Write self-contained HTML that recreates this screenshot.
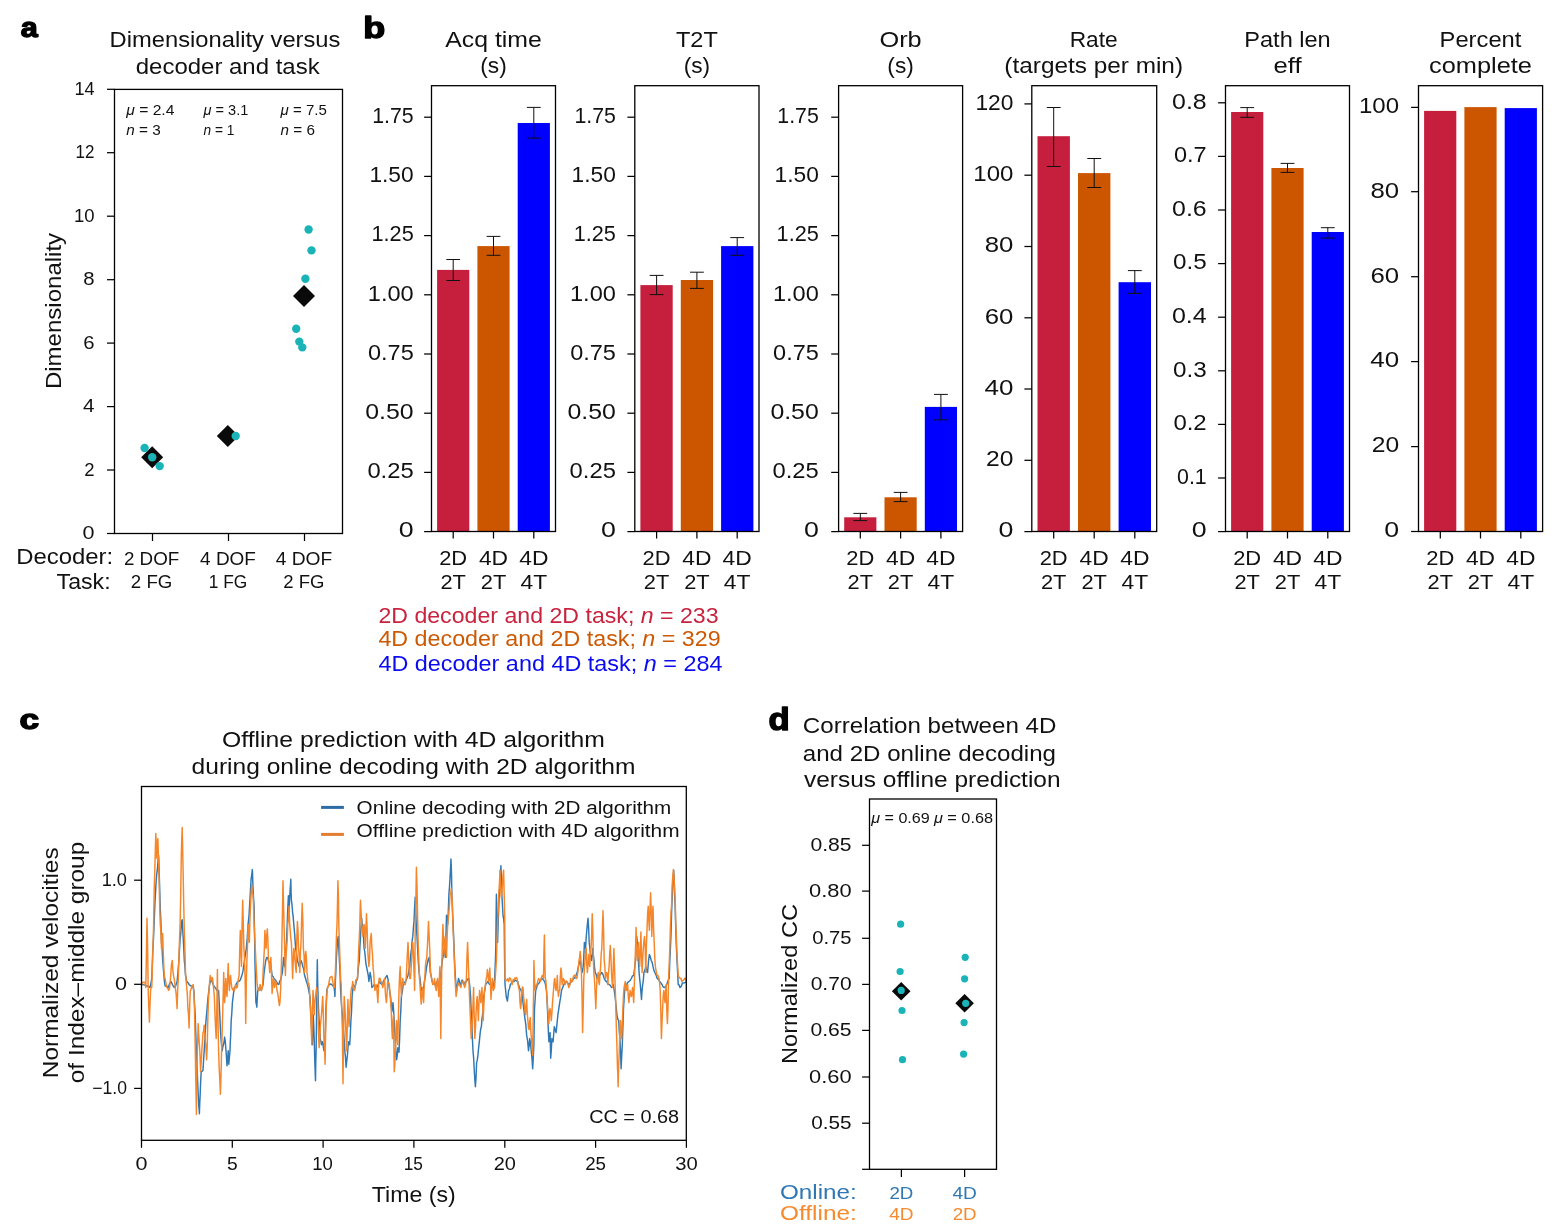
<!DOCTYPE html>
<html lang="en"><head><meta charset="utf-8"><title>Figure</title>
<style>
html,body{margin:0;padding:0;background:#fff;}
body{width:1559px;height:1231px;overflow:hidden;}
svg{display:block;font-family:"Liberation Sans",sans-serif;fill:#111;}
</style></head><body>
<svg width="1559" height="1231" viewBox="0 0 1559 1231" shape-rendering="geometricPrecision">
<text x="20.7" y="36.9" font-size="28" font-weight="bold" fill="#000" stroke="#000" stroke-width="1.4" stroke-linejoin="round" textLength="17.0" lengthAdjust="spacingAndGlyphs">a</text>
<text x="225.0" y="46.8" font-size="22.5" text-anchor="middle" textLength="230.9" lengthAdjust="spacingAndGlyphs">Dimensionality versus</text>
<text x="227.7" y="73.6" font-size="22.5" text-anchor="middle" textLength="183.9" lengthAdjust="spacingAndGlyphs">decoder and task</text>
<rect x="114.5" y="89.4" width="228.0" height="444.1" fill="none" stroke="#000" stroke-width="1.3"/>
<line x1="107.0" y1="533.5" x2="114.5" y2="533.5" stroke="#000" stroke-width="1.25"/>
<text x="94.5" y="539.1" font-size="17.8" text-anchor="end" textLength="12.0" lengthAdjust="spacingAndGlyphs">0</text>
<line x1="107.0" y1="470.0" x2="114.5" y2="470.0" stroke="#000" stroke-width="1.25"/>
<text x="94.5" y="475.6" font-size="17.8" text-anchor="end" textLength="10.3" lengthAdjust="spacingAndGlyphs">2</text>
<line x1="107.0" y1="406.6" x2="114.5" y2="406.6" stroke="#000" stroke-width="1.25"/>
<text x="94.5" y="412.2" font-size="17.8" text-anchor="end" textLength="11.5" lengthAdjust="spacingAndGlyphs">4</text>
<line x1="107.0" y1="343.1" x2="114.5" y2="343.1" stroke="#000" stroke-width="1.25"/>
<text x="94.5" y="348.7" font-size="17.8" text-anchor="end" textLength="11.3" lengthAdjust="spacingAndGlyphs">6</text>
<line x1="107.0" y1="279.7" x2="114.5" y2="279.7" stroke="#000" stroke-width="1.25"/>
<text x="94.5" y="285.3" font-size="17.8" text-anchor="end" textLength="11.3" lengthAdjust="spacingAndGlyphs">8</text>
<line x1="107.0" y1="216.2" x2="114.5" y2="216.2" stroke="#000" stroke-width="1.25"/>
<text x="94.5" y="221.8" font-size="17.8" text-anchor="end" textLength="20.6" lengthAdjust="spacingAndGlyphs">10</text>
<line x1="107.0" y1="152.7" x2="114.5" y2="152.7" stroke="#000" stroke-width="1.25"/>
<text x="94.5" y="158.3" font-size="17.8" text-anchor="end" textLength="18.9" lengthAdjust="spacingAndGlyphs">12</text>
<line x1="107.0" y1="89.3" x2="114.5" y2="89.3" stroke="#000" stroke-width="1.25"/>
<text x="94.5" y="94.9" font-size="17.8" text-anchor="end" textLength="20.1" lengthAdjust="spacingAndGlyphs">14</text>
<line x1="152.5" y1="533.5" x2="152.5" y2="541.0" stroke="#000" stroke-width="1.25"/>
<line x1="228.5" y1="533.5" x2="228.5" y2="541.0" stroke="#000" stroke-width="1.25"/>
<line x1="304.5" y1="533.5" x2="304.5" y2="541.0" stroke="#000" stroke-width="1.25"/>
<text transform="translate(60.8 311.0) rotate(-90)" font-size="22.5" text-anchor="middle" textLength="156.2" lengthAdjust="spacingAndGlyphs">Dimensionality</text>
<text x="126.2" y="114.6" font-size="13.8" textLength="48.2" lengthAdjust="spacingAndGlyphs"><tspan font-style="italic">μ</tspan> = 2.4</text>
<text x="126.2" y="134.6" font-size="13.8" textLength="34.5" lengthAdjust="spacingAndGlyphs"><tspan font-style="italic">n</tspan> = 3</text>
<text x="203.5" y="114.6" font-size="13.8" textLength="44.8" lengthAdjust="spacingAndGlyphs"><tspan font-style="italic">μ</tspan> = 3.1</text>
<text x="203.5" y="134.6" font-size="13.8" textLength="30.9" lengthAdjust="spacingAndGlyphs"><tspan font-style="italic">n</tspan> = 1</text>
<text x="280.5" y="114.6" font-size="13.8" textLength="46.3" lengthAdjust="spacingAndGlyphs"><tspan font-style="italic">μ</tspan> = 7.5</text>
<text x="280.5" y="134.6" font-size="13.8" textLength="34.4" lengthAdjust="spacingAndGlyphs"><tspan font-style="italic">n</tspan> = 6</text>
<path d="M152.2 446.3 L163.2 457.3 L152.2 468.3 L141.2 457.3Z" fill="#0a0a0a"/>
<circle cx="144.6" cy="448.0" r="4.2" fill="#1ab4b8"/>
<circle cx="152.2" cy="457.3" r="4.2" fill="#1ab4b8"/>
<circle cx="159.7" cy="466.1" r="4.2" fill="#1ab4b8"/>
<path d="M227.8 425.0 L238.8 436.0 L227.8 447.0 L216.8 436.0Z" fill="#0a0a0a"/>
<circle cx="235.7" cy="436.0" r="4.2" fill="#1ab4b8"/>
<path d="M304.0 285.0 L315.0 296.0 L304.0 307.0 L293.0 296.0Z" fill="#0a0a0a"/>
<circle cx="308.6" cy="229.5" r="4.2" fill="#1ab4b8"/>
<circle cx="311.5" cy="250.4" r="4.2" fill="#1ab4b8"/>
<circle cx="305.4" cy="278.7" r="4.2" fill="#1ab4b8"/>
<circle cx="296.2" cy="328.7" r="4.2" fill="#1ab4b8"/>
<circle cx="299.3" cy="341.6" r="4.2" fill="#1ab4b8"/>
<circle cx="302.3" cy="347.4" r="4.2" fill="#1ab4b8"/>
<text x="16.2" y="563.9" font-size="21.6" textLength="97.0" lengthAdjust="spacingAndGlyphs">Decoder:</text>
<text x="56.6" y="588.6" font-size="21.6" textLength="54.0" lengthAdjust="spacingAndGlyphs">Task:</text>
<text x="151.6" y="564.6" font-size="18.0" text-anchor="middle" textLength="55.3" lengthAdjust="spacingAndGlyphs">2 DOF</text>
<text x="151.6" y="587.8" font-size="18.0" text-anchor="middle" textLength="41.5" lengthAdjust="spacingAndGlyphs">2 FG</text>
<text x="228.0" y="564.6" font-size="18.0" text-anchor="middle" textLength="55.8" lengthAdjust="spacingAndGlyphs">4 DOF</text>
<text x="228.0" y="587.8" font-size="18.0" text-anchor="middle" textLength="38.5" lengthAdjust="spacingAndGlyphs">1 FG</text>
<text x="303.9" y="564.6" font-size="18.0" text-anchor="middle" textLength="56.5" lengthAdjust="spacingAndGlyphs">4 DOF</text>
<text x="303.9" y="587.8" font-size="18.0" text-anchor="middle" textLength="41.2" lengthAdjust="spacingAndGlyphs">2 FG</text>
<text x="363.2" y="38.0" font-size="30" font-weight="bold" fill="#000" stroke="#000" stroke-width="1.4" stroke-linejoin="round" textLength="22.0" lengthAdjust="spacingAndGlyphs">b</text>
<rect x="437.1" y="269.9" width="32.2" height="261.7" fill="#c61f3d"/>
<rect x="477.4" y="246.1" width="32.2" height="285.5" fill="#cc5500"/>
<rect x="517.7" y="123.0" width="32.2" height="408.6" fill="#0000ff"/>
<line x1="453.2" y1="259.5" x2="453.2" y2="280.5" stroke="#111" stroke-width="1"/>
<line x1="446.3" y1="259.5" x2="460.1" y2="259.5" stroke="#111" stroke-width="1"/>
<line x1="446.3" y1="280.5" x2="460.1" y2="280.5" stroke="#111" stroke-width="1"/>
<line x1="493.5" y1="236.4" x2="493.5" y2="255.3" stroke="#111" stroke-width="1"/>
<line x1="486.6" y1="236.4" x2="500.4" y2="236.4" stroke="#111" stroke-width="1"/>
<line x1="486.6" y1="255.3" x2="500.4" y2="255.3" stroke="#111" stroke-width="1"/>
<line x1="533.8" y1="107.4" x2="533.8" y2="138.1" stroke="#111" stroke-width="1"/>
<line x1="526.9" y1="107.4" x2="540.7" y2="107.4" stroke="#111" stroke-width="1"/>
<line x1="526.9" y1="138.1" x2="540.7" y2="138.1" stroke="#111" stroke-width="1"/>
<rect x="431.5" y="85.7" width="124.0" height="445.8" fill="none" stroke="#000" stroke-width="1.3"/>
<line x1="424.1" y1="531.6" x2="431.5" y2="531.6" stroke="#000" stroke-width="1.25"/>
<text x="413.7" y="537.4" font-size="22.0" text-anchor="end" textLength="14.9" lengthAdjust="spacingAndGlyphs">0</text>
<line x1="424.1" y1="472.4" x2="431.5" y2="472.4" stroke="#000" stroke-width="1.25"/>
<text x="413.7" y="478.2" font-size="22.0" text-anchor="end" textLength="46.3" lengthAdjust="spacingAndGlyphs">0.25</text>
<line x1="424.1" y1="413.2" x2="431.5" y2="413.2" stroke="#000" stroke-width="1.25"/>
<text x="413.7" y="419.0" font-size="22.0" text-anchor="end" textLength="48.4" lengthAdjust="spacingAndGlyphs">0.50</text>
<line x1="424.1" y1="354.0" x2="431.5" y2="354.0" stroke="#000" stroke-width="1.25"/>
<text x="413.7" y="359.8" font-size="22.0" text-anchor="end" textLength="45.7" lengthAdjust="spacingAndGlyphs">0.75</text>
<line x1="424.1" y1="294.8" x2="431.5" y2="294.8" stroke="#000" stroke-width="1.25"/>
<text x="413.7" y="300.6" font-size="22.0" text-anchor="end" textLength="45.9" lengthAdjust="spacingAndGlyphs">1.00</text>
<line x1="424.1" y1="235.6" x2="431.5" y2="235.6" stroke="#000" stroke-width="1.25"/>
<text x="413.7" y="241.4" font-size="22.0" text-anchor="end" textLength="42.2" lengthAdjust="spacingAndGlyphs">1.25</text>
<line x1="424.1" y1="176.4" x2="431.5" y2="176.4" stroke="#000" stroke-width="1.25"/>
<text x="413.7" y="182.2" font-size="22.0" text-anchor="end" textLength="44.3" lengthAdjust="spacingAndGlyphs">1.50</text>
<line x1="424.1" y1="117.2" x2="431.5" y2="117.2" stroke="#000" stroke-width="1.25"/>
<text x="413.7" y="123.0" font-size="22.0" text-anchor="end" textLength="41.5" lengthAdjust="spacingAndGlyphs">1.75</text>
<line x1="453.2" y1="531.5" x2="453.2" y2="538.5" stroke="#000" stroke-width="1.25"/>
<text x="453.2" y="564.6" font-size="20.5" text-anchor="middle" textLength="28.0" lengthAdjust="spacingAndGlyphs">2D</text>
<text x="453.2" y="589.2" font-size="20.5" text-anchor="middle" textLength="25.5" lengthAdjust="spacingAndGlyphs">2T</text>
<line x1="493.5" y1="531.5" x2="493.5" y2="538.5" stroke="#000" stroke-width="1.25"/>
<text x="493.5" y="564.6" font-size="20.5" text-anchor="middle" textLength="29.2" lengthAdjust="spacingAndGlyphs">4D</text>
<text x="493.5" y="589.2" font-size="20.5" text-anchor="middle" textLength="25.5" lengthAdjust="spacingAndGlyphs">2T</text>
<line x1="533.8" y1="531.5" x2="533.8" y2="538.5" stroke="#000" stroke-width="1.25"/>
<text x="533.8" y="564.6" font-size="20.5" text-anchor="middle" textLength="29.2" lengthAdjust="spacingAndGlyphs">4D</text>
<text x="533.8" y="589.2" font-size="20.5" text-anchor="middle" textLength="26.7" lengthAdjust="spacingAndGlyphs">4T</text>
<text x="493.5" y="47.0" font-size="22.5" text-anchor="middle" textLength="96.5" lengthAdjust="spacingAndGlyphs">Acq time</text>
<text x="493.5" y="73.4" font-size="22.5" text-anchor="middle" textLength="26.5" lengthAdjust="spacingAndGlyphs">(s)</text>
<rect x="640.4" y="285.1" width="32.3" height="246.5" fill="#c61f3d"/>
<rect x="680.8" y="280.0" width="32.3" height="251.6" fill="#cc5500"/>
<rect x="721.1" y="246.1" width="32.3" height="285.5" fill="#0000ff"/>
<line x1="656.6" y1="275.4" x2="656.6" y2="294.6" stroke="#111" stroke-width="1"/>
<line x1="649.7" y1="275.4" x2="663.5" y2="275.4" stroke="#111" stroke-width="1"/>
<line x1="649.7" y1="294.6" x2="663.5" y2="294.6" stroke="#111" stroke-width="1"/>
<line x1="696.9" y1="272.2" x2="696.9" y2="288.4" stroke="#111" stroke-width="1"/>
<line x1="690.0" y1="272.2" x2="703.8" y2="272.2" stroke="#111" stroke-width="1"/>
<line x1="690.0" y1="288.4" x2="703.8" y2="288.4" stroke="#111" stroke-width="1"/>
<line x1="737.2" y1="237.6" x2="737.2" y2="255.3" stroke="#111" stroke-width="1"/>
<line x1="730.3" y1="237.6" x2="744.1" y2="237.6" stroke="#111" stroke-width="1"/>
<line x1="730.3" y1="255.3" x2="744.1" y2="255.3" stroke="#111" stroke-width="1"/>
<rect x="634.8" y="85.7" width="124.2" height="445.8" fill="none" stroke="#000" stroke-width="1.3"/>
<line x1="627.4" y1="531.6" x2="634.8" y2="531.6" stroke="#000" stroke-width="1.25"/>
<text x="615.9" y="537.4" font-size="22.0" text-anchor="end" textLength="14.9" lengthAdjust="spacingAndGlyphs">0</text>
<line x1="627.4" y1="472.4" x2="634.8" y2="472.4" stroke="#000" stroke-width="1.25"/>
<text x="615.9" y="478.2" font-size="22.0" text-anchor="end" textLength="46.3" lengthAdjust="spacingAndGlyphs">0.25</text>
<line x1="627.4" y1="413.2" x2="634.8" y2="413.2" stroke="#000" stroke-width="1.25"/>
<text x="615.9" y="419.0" font-size="22.0" text-anchor="end" textLength="48.4" lengthAdjust="spacingAndGlyphs">0.50</text>
<line x1="627.4" y1="354.0" x2="634.8" y2="354.0" stroke="#000" stroke-width="1.25"/>
<text x="615.9" y="359.8" font-size="22.0" text-anchor="end" textLength="45.7" lengthAdjust="spacingAndGlyphs">0.75</text>
<line x1="627.4" y1="294.8" x2="634.8" y2="294.8" stroke="#000" stroke-width="1.25"/>
<text x="615.9" y="300.6" font-size="22.0" text-anchor="end" textLength="45.9" lengthAdjust="spacingAndGlyphs">1.00</text>
<line x1="627.4" y1="235.6" x2="634.8" y2="235.6" stroke="#000" stroke-width="1.25"/>
<text x="615.9" y="241.4" font-size="22.0" text-anchor="end" textLength="42.2" lengthAdjust="spacingAndGlyphs">1.25</text>
<line x1="627.4" y1="176.4" x2="634.8" y2="176.4" stroke="#000" stroke-width="1.25"/>
<text x="615.9" y="182.2" font-size="22.0" text-anchor="end" textLength="44.3" lengthAdjust="spacingAndGlyphs">1.50</text>
<line x1="627.4" y1="117.2" x2="634.8" y2="117.2" stroke="#000" stroke-width="1.25"/>
<text x="615.9" y="123.0" font-size="22.0" text-anchor="end" textLength="41.5" lengthAdjust="spacingAndGlyphs">1.75</text>
<line x1="656.6" y1="531.5" x2="656.6" y2="538.5" stroke="#000" stroke-width="1.25"/>
<text x="656.6" y="564.6" font-size="20.5" text-anchor="middle" textLength="28.0" lengthAdjust="spacingAndGlyphs">2D</text>
<text x="656.6" y="589.2" font-size="20.5" text-anchor="middle" textLength="25.5" lengthAdjust="spacingAndGlyphs">2T</text>
<line x1="696.9" y1="531.5" x2="696.9" y2="538.5" stroke="#000" stroke-width="1.25"/>
<text x="696.9" y="564.6" font-size="20.5" text-anchor="middle" textLength="29.2" lengthAdjust="spacingAndGlyphs">4D</text>
<text x="696.9" y="589.2" font-size="20.5" text-anchor="middle" textLength="25.5" lengthAdjust="spacingAndGlyphs">2T</text>
<line x1="737.2" y1="531.5" x2="737.2" y2="538.5" stroke="#000" stroke-width="1.25"/>
<text x="737.2" y="564.6" font-size="20.5" text-anchor="middle" textLength="29.2" lengthAdjust="spacingAndGlyphs">4D</text>
<text x="737.2" y="589.2" font-size="20.5" text-anchor="middle" textLength="26.7" lengthAdjust="spacingAndGlyphs">4T</text>
<text x="696.9" y="47.0" font-size="22.5" text-anchor="middle" textLength="41.8" lengthAdjust="spacingAndGlyphs">T2T</text>
<text x="696.9" y="73.4" font-size="22.5" text-anchor="middle" textLength="26.5" lengthAdjust="spacingAndGlyphs">(s)</text>
<rect x="844.2" y="517.3" width="32.2" height="14.3" fill="#c61f3d"/>
<rect x="884.5" y="497.3" width="32.2" height="34.3" fill="#cc5500"/>
<rect x="924.8" y="406.9" width="32.2" height="124.7" fill="#0000ff"/>
<line x1="860.3" y1="513.4" x2="860.3" y2="520.6" stroke="#111" stroke-width="1"/>
<line x1="853.4" y1="513.4" x2="867.2" y2="513.4" stroke="#111" stroke-width="1"/>
<line x1="853.4" y1="520.6" x2="867.2" y2="520.6" stroke="#111" stroke-width="1"/>
<line x1="900.6" y1="492.4" x2="900.6" y2="501.6" stroke="#111" stroke-width="1"/>
<line x1="893.7" y1="492.4" x2="907.5" y2="492.4" stroke="#111" stroke-width="1"/>
<line x1="893.7" y1="501.6" x2="907.5" y2="501.6" stroke="#111" stroke-width="1"/>
<line x1="940.9" y1="394.4" x2="940.9" y2="419.8" stroke="#111" stroke-width="1"/>
<line x1="934.0" y1="394.4" x2="947.8" y2="394.4" stroke="#111" stroke-width="1"/>
<line x1="934.0" y1="419.8" x2="947.8" y2="419.8" stroke="#111" stroke-width="1"/>
<rect x="838.6" y="85.7" width="124.0" height="445.8" fill="none" stroke="#000" stroke-width="1.3"/>
<line x1="831.2" y1="531.6" x2="838.6" y2="531.6" stroke="#000" stroke-width="1.25"/>
<text x="818.8" y="537.4" font-size="22.0" text-anchor="end" textLength="14.9" lengthAdjust="spacingAndGlyphs">0</text>
<line x1="831.2" y1="472.4" x2="838.6" y2="472.4" stroke="#000" stroke-width="1.25"/>
<text x="818.8" y="478.2" font-size="22.0" text-anchor="end" textLength="46.3" lengthAdjust="spacingAndGlyphs">0.25</text>
<line x1="831.2" y1="413.2" x2="838.6" y2="413.2" stroke="#000" stroke-width="1.25"/>
<text x="818.8" y="419.0" font-size="22.0" text-anchor="end" textLength="48.4" lengthAdjust="spacingAndGlyphs">0.50</text>
<line x1="831.2" y1="354.0" x2="838.6" y2="354.0" stroke="#000" stroke-width="1.25"/>
<text x="818.8" y="359.8" font-size="22.0" text-anchor="end" textLength="45.7" lengthAdjust="spacingAndGlyphs">0.75</text>
<line x1="831.2" y1="294.8" x2="838.6" y2="294.8" stroke="#000" stroke-width="1.25"/>
<text x="818.8" y="300.6" font-size="22.0" text-anchor="end" textLength="45.9" lengthAdjust="spacingAndGlyphs">1.00</text>
<line x1="831.2" y1="235.6" x2="838.6" y2="235.6" stroke="#000" stroke-width="1.25"/>
<text x="818.8" y="241.4" font-size="22.0" text-anchor="end" textLength="42.2" lengthAdjust="spacingAndGlyphs">1.25</text>
<line x1="831.2" y1="176.4" x2="838.6" y2="176.4" stroke="#000" stroke-width="1.25"/>
<text x="818.8" y="182.2" font-size="22.0" text-anchor="end" textLength="44.3" lengthAdjust="spacingAndGlyphs">1.50</text>
<line x1="831.2" y1="117.2" x2="838.6" y2="117.2" stroke="#000" stroke-width="1.25"/>
<text x="818.8" y="123.0" font-size="22.0" text-anchor="end" textLength="41.5" lengthAdjust="spacingAndGlyphs">1.75</text>
<line x1="860.3" y1="531.5" x2="860.3" y2="538.5" stroke="#000" stroke-width="1.25"/>
<text x="860.3" y="564.6" font-size="20.5" text-anchor="middle" textLength="28.0" lengthAdjust="spacingAndGlyphs">2D</text>
<text x="860.3" y="589.2" font-size="20.5" text-anchor="middle" textLength="25.5" lengthAdjust="spacingAndGlyphs">2T</text>
<line x1="900.6" y1="531.5" x2="900.6" y2="538.5" stroke="#000" stroke-width="1.25"/>
<text x="900.6" y="564.6" font-size="20.5" text-anchor="middle" textLength="29.2" lengthAdjust="spacingAndGlyphs">4D</text>
<text x="900.6" y="589.2" font-size="20.5" text-anchor="middle" textLength="25.5" lengthAdjust="spacingAndGlyphs">2T</text>
<line x1="940.9" y1="531.5" x2="940.9" y2="538.5" stroke="#000" stroke-width="1.25"/>
<text x="940.9" y="564.6" font-size="20.5" text-anchor="middle" textLength="29.2" lengthAdjust="spacingAndGlyphs">4D</text>
<text x="940.9" y="589.2" font-size="20.5" text-anchor="middle" textLength="26.7" lengthAdjust="spacingAndGlyphs">4T</text>
<text x="900.6" y="47.0" font-size="22.5" text-anchor="middle" textLength="42.2" lengthAdjust="spacingAndGlyphs">Orb</text>
<text x="900.6" y="73.4" font-size="22.5" text-anchor="middle" textLength="26.5" lengthAdjust="spacingAndGlyphs">(s)</text>
<rect x="1037.5" y="136.2" width="32.4" height="395.4" fill="#c61f3d"/>
<rect x="1078.0" y="173.1" width="32.4" height="358.5" fill="#cc5500"/>
<rect x="1118.6" y="282.2" width="32.4" height="249.4" fill="#0000ff"/>
<line x1="1053.7" y1="107.5" x2="1053.7" y2="166.5" stroke="#111" stroke-width="1"/>
<line x1="1046.8" y1="107.5" x2="1060.6" y2="107.5" stroke="#111" stroke-width="1"/>
<line x1="1046.8" y1="166.5" x2="1060.6" y2="166.5" stroke="#111" stroke-width="1"/>
<line x1="1094.2" y1="158.5" x2="1094.2" y2="187.5" stroke="#111" stroke-width="1"/>
<line x1="1087.3" y1="158.5" x2="1101.2" y2="158.5" stroke="#111" stroke-width="1"/>
<line x1="1087.3" y1="187.5" x2="1101.2" y2="187.5" stroke="#111" stroke-width="1"/>
<line x1="1134.8" y1="270.6" x2="1134.8" y2="293.4" stroke="#111" stroke-width="1"/>
<line x1="1127.9" y1="270.6" x2="1141.7" y2="270.6" stroke="#111" stroke-width="1"/>
<line x1="1127.9" y1="293.4" x2="1141.7" y2="293.4" stroke="#111" stroke-width="1"/>
<rect x="1031.8" y="85.7" width="124.9" height="445.8" fill="none" stroke="#000" stroke-width="1.3"/>
<line x1="1024.4" y1="531.6" x2="1031.8" y2="531.6" stroke="#000" stroke-width="1.25"/>
<text x="1013.4" y="537.4" font-size="22.0" text-anchor="end" textLength="14.9" lengthAdjust="spacingAndGlyphs">0</text>
<line x1="1024.4" y1="460.3" x2="1031.8" y2="460.3" stroke="#000" stroke-width="1.25"/>
<text x="1013.4" y="466.1" font-size="22.0" text-anchor="end" textLength="27.4" lengthAdjust="spacingAndGlyphs">20</text>
<line x1="1024.4" y1="389.0" x2="1031.8" y2="389.0" stroke="#000" stroke-width="1.25"/>
<text x="1013.4" y="394.8" font-size="22.0" text-anchor="end" textLength="28.9" lengthAdjust="spacingAndGlyphs">40</text>
<line x1="1024.4" y1="317.8" x2="1031.8" y2="317.8" stroke="#000" stroke-width="1.25"/>
<text x="1013.4" y="323.6" font-size="22.0" text-anchor="end" textLength="28.7" lengthAdjust="spacingAndGlyphs">60</text>
<line x1="1024.4" y1="246.5" x2="1031.8" y2="246.5" stroke="#000" stroke-width="1.25"/>
<text x="1013.4" y="252.3" font-size="22.0" text-anchor="end" textLength="28.7" lengthAdjust="spacingAndGlyphs">80</text>
<line x1="1024.4" y1="175.2" x2="1031.8" y2="175.2" stroke="#000" stroke-width="1.25"/>
<text x="1013.4" y="181.0" font-size="22.0" text-anchor="end" textLength="40.1" lengthAdjust="spacingAndGlyphs">100</text>
<line x1="1024.4" y1="103.9" x2="1031.8" y2="103.9" stroke="#000" stroke-width="1.25"/>
<text x="1013.4" y="109.7" font-size="22.0" text-anchor="end" textLength="38.0" lengthAdjust="spacingAndGlyphs">120</text>
<line x1="1053.7" y1="531.5" x2="1053.7" y2="538.5" stroke="#000" stroke-width="1.25"/>
<text x="1053.7" y="564.6" font-size="20.5" text-anchor="middle" textLength="28.0" lengthAdjust="spacingAndGlyphs">2D</text>
<text x="1053.7" y="589.2" font-size="20.5" text-anchor="middle" textLength="25.5" lengthAdjust="spacingAndGlyphs">2T</text>
<line x1="1094.2" y1="531.5" x2="1094.2" y2="538.5" stroke="#000" stroke-width="1.25"/>
<text x="1094.2" y="564.6" font-size="20.5" text-anchor="middle" textLength="29.2" lengthAdjust="spacingAndGlyphs">4D</text>
<text x="1094.2" y="589.2" font-size="20.5" text-anchor="middle" textLength="25.5" lengthAdjust="spacingAndGlyphs">2T</text>
<line x1="1134.8" y1="531.5" x2="1134.8" y2="538.5" stroke="#000" stroke-width="1.25"/>
<text x="1134.8" y="564.6" font-size="20.5" text-anchor="middle" textLength="29.2" lengthAdjust="spacingAndGlyphs">4D</text>
<text x="1134.8" y="589.2" font-size="20.5" text-anchor="middle" textLength="26.7" lengthAdjust="spacingAndGlyphs">4T</text>
<text x="1093.7" y="47.0" font-size="22.5" text-anchor="middle" textLength="48.0" lengthAdjust="spacingAndGlyphs">Rate</text>
<text x="1093.7" y="73.4" font-size="22.5" text-anchor="middle" textLength="178.7" lengthAdjust="spacingAndGlyphs">(targets per min)</text>
<rect x="1231.1" y="112.0" width="32.2" height="419.6" fill="#c61f3d"/>
<rect x="1271.4" y="168.0" width="32.2" height="363.6" fill="#cc5500"/>
<rect x="1311.7" y="232.0" width="32.2" height="299.6" fill="#0000ff"/>
<line x1="1247.2" y1="107.6" x2="1247.2" y2="117.3" stroke="#111" stroke-width="1"/>
<line x1="1240.3" y1="107.6" x2="1254.1" y2="107.6" stroke="#111" stroke-width="1"/>
<line x1="1240.3" y1="117.3" x2="1254.1" y2="117.3" stroke="#111" stroke-width="1"/>
<line x1="1287.5" y1="163.4" x2="1287.5" y2="172.4" stroke="#111" stroke-width="1"/>
<line x1="1280.6" y1="163.4" x2="1294.4" y2="163.4" stroke="#111" stroke-width="1"/>
<line x1="1280.6" y1="172.4" x2="1294.4" y2="172.4" stroke="#111" stroke-width="1"/>
<line x1="1327.8" y1="227.7" x2="1327.8" y2="238.1" stroke="#111" stroke-width="1"/>
<line x1="1320.9" y1="227.7" x2="1334.7" y2="227.7" stroke="#111" stroke-width="1"/>
<line x1="1320.9" y1="238.1" x2="1334.7" y2="238.1" stroke="#111" stroke-width="1"/>
<rect x="1225.5" y="85.7" width="124.0" height="445.8" fill="none" stroke="#000" stroke-width="1.3"/>
<line x1="1218.1" y1="531.6" x2="1225.5" y2="531.6" stroke="#000" stroke-width="1.25"/>
<text x="1206.7" y="537.4" font-size="22.0" text-anchor="end" textLength="14.9" lengthAdjust="spacingAndGlyphs">0</text>
<line x1="1218.1" y1="478.0" x2="1225.5" y2="478.0" stroke="#000" stroke-width="1.25"/>
<text x="1206.7" y="483.8" font-size="22.0" text-anchor="end" textLength="29.7" lengthAdjust="spacingAndGlyphs">0.1</text>
<line x1="1218.1" y1="424.4" x2="1225.5" y2="424.4" stroke="#000" stroke-width="1.25"/>
<text x="1206.7" y="430.2" font-size="22.0" text-anchor="end" textLength="33.3" lengthAdjust="spacingAndGlyphs">0.2</text>
<line x1="1218.1" y1="370.8" x2="1225.5" y2="370.8" stroke="#000" stroke-width="1.25"/>
<text x="1206.7" y="376.6" font-size="22.0" text-anchor="end" textLength="33.7" lengthAdjust="spacingAndGlyphs">0.3</text>
<line x1="1218.1" y1="317.2" x2="1225.5" y2="317.2" stroke="#000" stroke-width="1.25"/>
<text x="1206.7" y="323.0" font-size="22.0" text-anchor="end" textLength="34.8" lengthAdjust="spacingAndGlyphs">0.4</text>
<line x1="1218.1" y1="263.6" x2="1225.5" y2="263.6" stroke="#000" stroke-width="1.25"/>
<text x="1206.7" y="269.4" font-size="22.0" text-anchor="end" textLength="33.7" lengthAdjust="spacingAndGlyphs">0.5</text>
<line x1="1218.1" y1="210.0" x2="1225.5" y2="210.0" stroke="#000" stroke-width="1.25"/>
<text x="1206.7" y="215.8" font-size="22.0" text-anchor="end" textLength="34.6" lengthAdjust="spacingAndGlyphs">0.6</text>
<line x1="1218.1" y1="156.4" x2="1225.5" y2="156.4" stroke="#000" stroke-width="1.25"/>
<text x="1206.7" y="162.2" font-size="22.0" text-anchor="end" textLength="32.7" lengthAdjust="spacingAndGlyphs">0.7</text>
<line x1="1218.1" y1="102.8" x2="1225.5" y2="102.8" stroke="#000" stroke-width="1.25"/>
<text x="1206.7" y="108.6" font-size="22.0" text-anchor="end" textLength="34.6" lengthAdjust="spacingAndGlyphs">0.8</text>
<line x1="1247.2" y1="531.5" x2="1247.2" y2="538.5" stroke="#000" stroke-width="1.25"/>
<text x="1247.2" y="564.6" font-size="20.5" text-anchor="middle" textLength="28.0" lengthAdjust="spacingAndGlyphs">2D</text>
<text x="1247.2" y="589.2" font-size="20.5" text-anchor="middle" textLength="25.5" lengthAdjust="spacingAndGlyphs">2T</text>
<line x1="1287.5" y1="531.5" x2="1287.5" y2="538.5" stroke="#000" stroke-width="1.25"/>
<text x="1287.5" y="564.6" font-size="20.5" text-anchor="middle" textLength="29.2" lengthAdjust="spacingAndGlyphs">4D</text>
<text x="1287.5" y="589.2" font-size="20.5" text-anchor="middle" textLength="25.5" lengthAdjust="spacingAndGlyphs">2T</text>
<line x1="1327.8" y1="531.5" x2="1327.8" y2="538.5" stroke="#000" stroke-width="1.25"/>
<text x="1327.8" y="564.6" font-size="20.5" text-anchor="middle" textLength="29.2" lengthAdjust="spacingAndGlyphs">4D</text>
<text x="1327.8" y="589.2" font-size="20.5" text-anchor="middle" textLength="26.7" lengthAdjust="spacingAndGlyphs">4T</text>
<text x="1287.5" y="47.0" font-size="22.5" text-anchor="middle" textLength="86.4" lengthAdjust="spacingAndGlyphs">Path len</text>
<text x="1287.5" y="73.4" font-size="22.5" text-anchor="middle" textLength="28.0" lengthAdjust="spacingAndGlyphs">eff</text>
<rect x="1424.1" y="110.9" width="32.2" height="420.6" fill="#c61f3d"/>
<rect x="1464.4" y="107.1" width="32.2" height="424.4" fill="#cc5500"/>
<rect x="1504.7" y="108.1" width="32.2" height="423.4" fill="#0000ff"/>
<rect x="1418.5" y="85.7" width="124.1" height="445.8" fill="none" stroke="#000" stroke-width="1.3"/>
<line x1="1411.1" y1="531.5" x2="1418.5" y2="531.5" stroke="#000" stroke-width="1.25"/>
<text x="1399.1" y="537.3" font-size="22.0" text-anchor="end" textLength="14.9" lengthAdjust="spacingAndGlyphs">0</text>
<line x1="1411.1" y1="446.6" x2="1418.5" y2="446.6" stroke="#000" stroke-width="1.25"/>
<text x="1399.1" y="452.4" font-size="22.0" text-anchor="end" textLength="27.4" lengthAdjust="spacingAndGlyphs">20</text>
<line x1="1411.1" y1="361.6" x2="1418.5" y2="361.6" stroke="#000" stroke-width="1.25"/>
<text x="1399.1" y="367.4" font-size="22.0" text-anchor="end" textLength="28.9" lengthAdjust="spacingAndGlyphs">40</text>
<line x1="1411.1" y1="276.7" x2="1418.5" y2="276.7" stroke="#000" stroke-width="1.25"/>
<text x="1399.1" y="282.5" font-size="22.0" text-anchor="end" textLength="28.7" lengthAdjust="spacingAndGlyphs">60</text>
<line x1="1411.1" y1="191.7" x2="1418.5" y2="191.7" stroke="#000" stroke-width="1.25"/>
<text x="1399.1" y="197.5" font-size="22.0" text-anchor="end" textLength="28.7" lengthAdjust="spacingAndGlyphs">80</text>
<line x1="1411.1" y1="107.4" x2="1418.5" y2="107.4" stroke="#000" stroke-width="1.25"/>
<text x="1399.1" y="113.2" font-size="22.0" text-anchor="end" textLength="40.1" lengthAdjust="spacingAndGlyphs">100</text>
<line x1="1440.3" y1="531.5" x2="1440.3" y2="538.5" stroke="#000" stroke-width="1.25"/>
<text x="1440.3" y="564.6" font-size="20.5" text-anchor="middle" textLength="28.0" lengthAdjust="spacingAndGlyphs">2D</text>
<text x="1440.3" y="589.2" font-size="20.5" text-anchor="middle" textLength="25.5" lengthAdjust="spacingAndGlyphs">2T</text>
<line x1="1480.5" y1="531.5" x2="1480.5" y2="538.5" stroke="#000" stroke-width="1.25"/>
<text x="1480.5" y="564.6" font-size="20.5" text-anchor="middle" textLength="29.2" lengthAdjust="spacingAndGlyphs">4D</text>
<text x="1480.5" y="589.2" font-size="20.5" text-anchor="middle" textLength="25.5" lengthAdjust="spacingAndGlyphs">2T</text>
<line x1="1520.8" y1="531.5" x2="1520.8" y2="538.5" stroke="#000" stroke-width="1.25"/>
<text x="1520.8" y="564.6" font-size="20.5" text-anchor="middle" textLength="29.2" lengthAdjust="spacingAndGlyphs">4D</text>
<text x="1520.8" y="589.2" font-size="20.5" text-anchor="middle" textLength="26.7" lengthAdjust="spacingAndGlyphs">4T</text>
<text x="1480.5" y="47.0" font-size="22.5" text-anchor="middle" textLength="81.8" lengthAdjust="spacingAndGlyphs">Percent</text>
<text x="1480.5" y="73.4" font-size="22.5" text-anchor="middle" textLength="102.9" lengthAdjust="spacingAndGlyphs">complete</text>
<text x="378.4" y="622.5" font-size="21.2" textLength="340.2" lengthAdjust="spacingAndGlyphs" fill="#c8233f">2D decoder and 2D task; <tspan font-style="italic">n</tspan> = 233</text>
<text x="378.4" y="646.4" font-size="21.2" textLength="342.3" lengthAdjust="spacingAndGlyphs" fill="#cc5a05">4D decoder and 2D task; <tspan font-style="italic">n</tspan> = 329</text>
<text x="378.4" y="670.8" font-size="21.2" textLength="344.1" lengthAdjust="spacingAndGlyphs" fill="#0b0bf0">4D decoder and 4D task; <tspan font-style="italic">n</tspan> = 284</text>
<text x="19.6" y="729.2" font-size="27" font-weight="bold" fill="#000" stroke="#000" stroke-width="1.4" stroke-linejoin="round" textLength="19.6" lengthAdjust="spacingAndGlyphs">c</text>
<text x="413.5" y="747.0" font-size="22.5" text-anchor="middle" textLength="382.9" lengthAdjust="spacingAndGlyphs">Offline prediction with 4D algorithm</text>
<text x="413.5" y="774.2" font-size="22.5" text-anchor="middle" textLength="443.9" lengthAdjust="spacingAndGlyphs">during online decoding with 2D algorithm</text>
<clipPath id="cc"><rect x="141.5" y="786.5" width="544.8" height="353.8"/></clipPath>
<g clip-path="url(#cc)" fill="none" stroke-linejoin="round" stroke-width="1.45">
<path d="M141.6 984.5 L144.3 984.9 L147.0 986.0 L148.5 986.1 L150.0 987.5 L150.9 983.6 L151.8 978.5 L152.7 952.4 L153.6 936.4 L154.2 921.7 L154.8 906.3 L155.5 893.3 L156.1 882.3 L156.7 874.3 L157.3 870.2 L157.9 862.7 L158.5 855.2 L158.8 860.3 L159.1 870.2 L159.7 889.0 L160.3 909.3 L160.9 921.8 L161.5 942.4 L162.1 949.0 L162.7 960.5 L163.3 967.6 L163.9 975.5 L164.5 982.1 L165.1 986.0 L166.6 986.0 L168.1 987.5 L169.6 983.7 L171.1 981.5 L172.6 984.9 L174.1 987.5 L175.6 985.9 L177.1 981.5 L178.0 971.5 L178.9 960.5 L179.5 949.2 L180.1 939.4 L180.7 934.4 L181.3 924.4 L181.8 920.9 L182.2 919.8 L182.7 930.1 L183.1 936.4 L183.7 946.9 L184.3 960.5 L184.9 966.1 L185.5 975.5 L186.1 977.3 L186.7 981.5 L187.9 982.6 L189.1 984.5 L190.6 985.9 L192.1 986.0 L193.0 987.4 L193.9 990.5 L194.5 1003.2 L195.2 1014.6 L195.8 1034.1 L196.4 1050.7 L197.0 1064.6 L197.6 1080.8 L198.2 1093.9 L198.8 1106.3 L199.1 1108.6 L199.4 1113.8 L199.7 1104.0 L200.0 1098.8 L200.6 1082.9 L201.2 1071.7 L202.1 1071.3 L203.0 1070.2 L203.6 1060.0 L204.2 1050.7 L205.1 1034.0 L206.0 1020.6 L206.9 1010.6 L207.8 999.5 L208.7 991.8 L209.6 984.5 L210.5 980.9 L211.4 978.5 L212.3 982.4 L213.2 984.5 L214.1 986.5 L215.0 987.5 L215.9 988.4 L216.8 990.5 L217.7 990.6 L218.6 990.5 L219.2 1002.7 L219.8 1014.6 L220.4 1029.4 L221.0 1038.6 L221.6 1045.7 L222.2 1050.7 L222.8 1047.0 L223.4 1044.7 L224.0 1042.5 L224.6 1037.1 L225.2 1040.8 L225.8 1047.7 L226.4 1056.2 L227.0 1065.7 L227.6 1059.5 L228.2 1050.7 L228.5 1055.8 L228.8 1064.2 L229.4 1057.4 L230.0 1050.7 L230.3 1041.7 L230.6 1037.1 L230.9 1029.8 L231.2 1020.6 L231.8 1013.1 L232.4 1002.6 L233.3 995.4 L234.2 987.5 L235.2 986.9 L236.1 984.5 L237.0 982.6 L237.9 981.5 L239.1 981.1 L240.3 980.0 L241.5 976.6 L242.7 972.5 L243.6 966.8 L244.5 960.5 L245.4 954.2 L246.3 948.4 L247.2 938.9 L248.1 924.4 L249.0 915.6 L249.9 900.3 L250.5 889.6 L251.1 879.2 L251.7 875.1 L252.3 869.6 L252.6 875.1 L252.9 885.3 L253.5 897.1 L254.1 906.3 L254.4 925.9 L254.7 942.4 L255.0 963.7 L255.3 975.5 L255.6 991.6 L255.9 1002.6 L256.4 1004.2 L256.8 1007.1 L257.3 998.2 L257.7 990.5 L258.6 989.4 L259.5 987.5 L260.4 987.9 L261.3 990.5 L262.2 987.4 L263.1 984.5 L264.0 973.5 L264.9 966.5 L265.8 960.5 L266.7 957.4 L267.6 957.9 L268.5 960.5 L269.4 962.6 L270.3 963.5 L271.2 967.8 L272.1 975.5 L273.0 976.4 L273.9 978.5 L275.2 979.7 L276.4 981.5 L277.6 983.9 L278.8 984.5 L279.7 981.1 L280.6 980.0 L281.5 976.1 L282.4 972.5 L283.0 965.2 L283.6 957.4 L284.2 963.4 L284.8 966.5 L285.4 959.3 L286.0 948.4 L286.6 939.1 L287.2 924.4 L287.8 908.2 L288.4 895.8 L288.7 903.6 L289.0 912.3 L289.6 899.3 L290.2 888.3 L290.5 885.2 L290.8 879.2 L291.1 892.8 L291.4 900.3 L292.0 904.7 L292.6 912.3 L293.2 916.9 L293.8 924.4 L294.7 934.4 L295.6 948.4 L296.5 953.2 L297.4 960.5 L298.3 963.4 L299.2 966.5 L300.1 963.7 L301.0 960.5 L301.9 962.7 L302.8 966.5 L303.7 969.1 L304.6 975.5 L305.5 978.2 L306.4 981.5 L307.3 984.1 L308.2 987.5 L309.1 992.3 L310.0 996.5 L310.6 1011.9 L311.2 1020.6 L311.8 1034.0 L312.4 1044.7 L312.9 1029.8 L313.3 1014.6 L313.8 1027.5 L314.2 1038.6 L314.8 1061.8 L315.5 1080.8 L315.8 1061.8 L316.1 1050.7 L316.4 1029.4 L316.7 996.5 L317.0 981.1 L317.3 959.8 L317.6 978.5 L317.9 990.5 L318.5 1008.2 L319.1 1020.6 L319.7 1029.0 L320.3 1038.6 L320.9 1041.3 L321.5 1044.7 L322.1 1042.2 L322.7 1041.7 L323.3 1046.7 L323.9 1050.7 L324.5 1044.5 L325.1 1041.7 L325.9 1010.1 L326.8 990.5 L328.0 986.6 L329.2 984.5 L330.4 984.0 L331.6 984.5 L332.8 985.6 L334.0 987.5 L334.5 990.3 L334.9 996.5 L335.4 980.8 L335.8 972.5 L336.4 957.9 L337.0 948.4 L337.6 940.6 L338.2 936.4 L338.8 947.4 L339.4 960.5 L340.0 971.3 L340.6 990.5 L341.5 1005.3 L342.4 1014.6 L343.0 1024.3 L343.6 1032.6 L344.2 1039.6 L344.8 1050.7 L345.5 1057.6 L346.1 1067.2 L346.7 1061.3 L347.3 1056.7 L347.9 1048.5 L348.5 1041.7 L349.1 1042.3 L349.7 1044.7 L350.3 1035.2 L350.9 1020.6 L351.5 1012.2 L352.1 996.5 L352.7 990.4 L353.3 984.5 L354.2 986.0 L355.1 987.5 L356.3 981.4 L357.5 978.5 L358.4 967.1 L359.3 960.5 L359.9 947.3 L360.5 936.4 L361.1 926.0 L361.7 918.3 L362.3 925.8 L362.9 930.4 L363.5 937.4 L364.1 948.4 L364.7 951.1 L365.3 957.4 L365.9 963.7 L366.5 966.5 L367.1 969.6 L367.7 972.5 L368.3 975.7 L368.9 981.5 L369.5 977.2 L370.1 972.5 L371.0 977.5 L371.9 987.5 L373.1 986.1 L374.3 984.5 L375.5 987.1 L376.7 987.5 L377.9 985.6 L379.1 981.5 L380.6 983.5 L382.1 984.5 L383.6 980.8 L385.2 978.5 L386.1 976.7 L387.0 975.5 L387.9 978.7 L388.8 984.5 L389.7 991.7 L390.6 996.5 L391.2 1004.2 L391.8 1011.6 L392.4 1008.1 L393.0 1002.6 L393.6 1010.6 L394.2 1020.6 L394.8 1030.6 L395.4 1044.7 L396.0 1053.8 L396.6 1059.7 L397.2 1055.9 L397.8 1047.7 L398.4 1050.9 L399.0 1052.2 L399.6 1039.2 L400.2 1020.6 L400.8 1010.9 L401.4 996.5 L402.3 991.6 L403.2 984.5 L404.4 982.4 L405.6 981.5 L406.8 978.5 L408.0 975.5 L408.9 970.4 L409.8 966.5 L410.7 954.7 L411.6 948.4 L412.2 940.3 L412.8 936.4 L413.4 927.7 L414.0 921.4 L414.6 907.5 L415.2 897.3 L415.5 905.8 L415.8 912.3 L416.4 927.7 L417.0 936.4 L417.6 948.0 L418.2 960.5 L419.1 972.1 L420.0 978.5 L420.9 986.7 L421.8 990.5 L422.7 990.1 L423.6 987.5 L424.5 980.9 L425.5 975.5 L426.4 968.2 L427.3 963.5 L428.2 959.6 L429.1 957.4 L429.7 963.4 L430.3 972.5 L431.2 975.9 L432.1 981.5 L433.3 983.3 L434.5 984.5 L435.7 983.9 L436.9 981.5 L437.8 985.5 L438.7 987.5 L439.6 981.4 L440.5 975.5 L441.4 968.8 L442.3 960.5 L443.2 955.8 L444.1 948.4 L444.7 951.4 L445.3 957.4 L445.9 938.3 L446.5 915.3 L447.1 921.4 L447.7 924.4 L448.3 911.8 L448.9 894.3 L449.5 886.7 L450.1 876.2 L450.6 867.5 L451.0 859.1 L451.5 873.5 L451.9 894.3 L452.5 911.9 L453.1 924.4 L453.7 937.9 L454.3 954.4 L454.9 968.7 L455.5 978.5 L456.1 986.6 L456.7 990.5 L457.6 984.0 L458.5 978.5 L459.4 981.2 L460.3 984.5 L461.2 983.5 L462.1 980.0 L463.0 982.9 L463.9 984.5 L465.2 982.2 L466.4 981.5 L467.6 979.1 L468.8 978.5 L469.7 985.4 L470.6 996.5 L471.2 1011.6 L471.8 1020.6 L472.4 1038.3 L473.0 1050.7 L473.6 1057.6 L474.2 1068.7 L474.8 1079.7 L475.4 1086.8 L476.0 1078.3 L476.6 1062.7 L477.2 1060.2 L477.8 1056.7 L478.4 1050.0 L479.0 1044.7 L479.6 1038.9 L480.2 1032.6 L480.8 1028.5 L481.4 1026.6 L482.0 1018.4 L482.6 1014.6 L483.2 1008.4 L483.8 996.5 L484.7 991.2 L485.6 984.5 L486.8 983.1 L488.0 981.5 L489.2 984.0 L490.4 984.5 L491.6 985.9 L492.8 987.5 L493.7 984.4 L494.6 978.5 L495.2 966.3 L495.8 948.4 L496.1 917.1 L496.4 894.3 L497.0 915.1 L497.6 942.4 L498.2 922.2 L498.8 906.3 L499.4 892.4 L500.0 882.3 L500.5 874.5 L500.9 865.7 L501.4 878.0 L501.8 894.3 L502.4 904.3 L503.0 915.3 L503.6 918.5 L504.2 924.4 L504.6 961.0 L505.0 984.5 L505.6 989.9 L506.2 996.5 L506.8 998.7 L507.4 1001.1 L508.0 996.1 L508.6 990.5 L509.5 988.7 L510.4 984.5 L511.6 982.8 L512.8 981.5 L514.0 981.6 L515.2 980.0 L516.4 980.8 L517.6 981.5 L518.5 984.6 L519.4 987.5 L520.3 989.1 L521.2 990.5 L522.1 994.4 L523.0 1002.6 L523.9 1009.8 L524.8 1017.6 L525.8 1024.7 L526.7 1035.6 L527.6 1040.6 L528.5 1050.7 L529.1 1046.0 L529.7 1038.6 L530.3 1041.9 L530.9 1047.7 L531.5 1053.6 L532.1 1059.7 L532.4 1065.1 L532.7 1068.7 L533.3 1057.1 L533.9 1044.7 L534.2 1024.8 L534.5 1008.6 L535.1 999.7 L535.7 990.5 L536.6 987.7 L537.5 984.5 L538.7 983.7 L539.9 981.5 L541.1 979.1 L542.3 978.5 L543.5 980.1 L544.7 981.5 L545.6 985.1 L546.5 990.5 L547.1 1000.9 L547.7 1014.6 L548.3 1030.3 L548.9 1041.7 L549.5 1037.2 L550.1 1032.6 L550.4 1045.9 L550.7 1058.2 L551.3 1050.1 L551.9 1038.6 L552.5 1041.1 L553.1 1041.7 L553.7 1033.8 L554.3 1026.6 L555.2 1030.0 L556.1 1032.6 L557.0 1023.6 L557.9 1014.6 L558.8 1008.6 L559.7 1002.6 L560.6 997.4 L561.5 990.5 L562.7 987.4 L563.9 984.5 L565.2 983.1 L566.4 981.5 L567.6 983.0 L568.8 984.5 L570.0 984.0 L571.2 981.5 L572.4 980.5 L573.6 978.5 L574.8 977.9 L576.0 975.5 L577.2 972.6 L578.4 966.5 L579.3 962.7 L580.2 960.5 L581.1 966.7 L582.0 972.5 L582.6 970.8 L583.2 966.5 L583.8 956.9 L584.4 942.4 L585.0 944.3 L585.6 948.4 L586.2 937.2 L586.8 930.4 L587.4 924.1 L588.0 918.3 L588.6 927.2 L589.2 942.4 L589.8 947.3 L590.4 954.4 L591.0 956.1 L591.6 960.5 L592.2 955.2 L592.8 948.4 L593.4 955.7 L594.0 960.5 L594.6 968.2 L595.2 972.5 L596.1 974.4 L597.0 978.5 L598.2 977.5 L599.4 975.5 L600.6 974.4 L601.8 972.5 L603.0 974.4 L604.2 978.5 L605.5 980.9 L606.7 981.5 L607.9 984.1 L609.1 984.5 L610.3 985.4 L611.5 987.5 L612.4 987.1 L613.3 984.5 L614.2 990.1 L615.1 996.5 L616.0 1005.5 L616.9 1014.6 L617.8 1019.1 L618.7 1020.6 L619.3 1031.6 L619.9 1038.6 L620.5 1050.7 L621.1 1068.7 L621.7 1056.2 L622.3 1044.7 L622.9 1026.8 L623.5 1008.6 L624.1 998.6 L624.7 990.5 L625.6 986.6 L626.5 984.5 L627.7 982.6 L628.9 981.5 L630.1 980.5 L631.3 978.5 L632.5 975.9 L633.7 975.5 L634.6 968.3 L635.5 960.5 L636.1 948.0 L636.7 936.4 L637.3 942.6 L637.9 954.4 L638.5 962.5 L639.1 972.5 L639.7 979.1 L640.3 984.5 L640.9 992.1 L641.5 999.5 L642.1 989.8 L642.7 984.5 L643.3 980.7 L643.9 972.5 L644.8 970.4 L645.8 966.5 L646.7 970.9 L647.6 972.5 L648.5 961.1 L649.4 954.4 L650.3 956.7 L651.2 960.5 L652.1 962.1 L653.0 966.5 L653.9 970.3 L654.8 972.5 L656.0 974.8 L657.2 978.5 L658.4 979.1 L659.6 981.5 L660.8 982.8 L662.0 984.5 L663.2 987.0 L664.4 987.5 L665.6 986.8 L666.8 984.5 L668.0 980.8 L669.2 978.5 L669.8 960.4 L670.4 948.4 L671.0 934.7 L671.6 912.3 L672.2 897.9 L672.8 882.3 L673.3 877.1 L673.7 870.2 L674.2 879.2 L674.6 894.3 L675.2 907.8 L675.8 930.4 L676.4 947.1 L677.0 960.5 L677.6 971.9 L678.2 984.5 L679.1 985.0 L680.0 987.5 L681.2 986.4 L682.4 983.0 L684.4 982.8 L686.4 982.1" stroke="#2f78b4"/>
<path d="M141.6 984.5 L142.8 982.3 L144.0 982.1 L144.9 982.6 L145.8 987.5 L146.4 956.2 L147.0 918.3 L147.6 944.9 L148.2 990.5 L148.8 1006.8 L149.4 1022.1 L150.0 1004.6 L150.6 990.5 L151.2 986.5 L151.8 987.5 L152.7 956.1 L153.6 924.4 L154.2 889.0 L154.8 870.2 L155.3 851.0 L155.8 833.5 L156.2 841.2 L156.7 858.2 L157.3 844.5 L157.9 838.6 L158.5 857.8 L159.1 879.2 L159.7 907.0 L160.3 924.4 L160.9 932.3 L161.5 948.4 L162.1 938.5 L162.7 933.4 L163.3 953.2 L163.9 969.5 L164.5 977.2 L165.1 978.5 L166.0 983.6 L166.9 987.5 L167.8 988.4 L168.7 990.5 L169.6 988.3 L170.5 978.5 L171.4 965.2 L172.3 960.5 L172.9 971.1 L173.5 975.5 L174.4 979.8 L175.3 987.5 L176.2 994.5 L177.1 1008.6 L177.7 988.9 L178.3 978.5 L179.2 948.0 L180.1 924.4 L180.7 896.6 L181.3 855.2 L181.8 837.6 L182.2 827.5 L182.7 850.1 L183.1 870.2 L183.7 903.0 L184.3 930.4 L184.9 949.5 L185.5 972.5 L186.1 980.4 L186.7 987.5 L187.3 993.6 L187.9 1008.6 L188.5 1014.1 L189.1 1028.1 L189.7 1005.2 L190.3 990.5 L190.9 990.1 L191.5 987.5 L192.4 985.6 L193.3 984.5 L193.9 994.5 L194.5 1008.6 L195.2 1046.6 L195.8 1080.8 L196.1 1097.0 L196.4 1114.4 L196.8 1078.5 L197.3 1050.7 L197.7 1040.5 L198.2 1023.6 L198.8 1036.1 L199.4 1044.7 L200.0 1055.3 L200.6 1071.7 L201.2 1062.0 L201.8 1050.7 L202.4 1041.9 L203.0 1032.6 L203.6 1031.4 L204.2 1025.1 L204.8 1035.4 L205.4 1041.7 L206.0 1048.7 L206.6 1059.7 L207.2 1047.1 L207.8 1020.6 L208.4 1000.9 L209.0 990.5 L209.6 982.3 L210.2 975.5 L210.8 979.3 L211.4 980.0 L212.0 977.4 L212.6 978.5 L213.2 984.4 L213.8 990.5 L214.4 997.6 L215.0 1014.6 L215.6 1028.4 L216.2 1038.6 L216.8 1009.8 L217.4 969.5 L217.7 996.3 L218.0 1020.6 L218.6 1050.9 L219.2 1068.7 L219.8 1079.4 L220.4 1094.3 L221.0 1075.5 L221.6 1050.7 L222.2 1031.0 L222.8 1008.6 L223.3 991.6 L223.7 972.5 L224.2 987.0 L224.6 1002.6 L225.2 994.2 L225.8 978.5 L226.4 991.7 L227.0 996.5 L227.6 979.7 L228.2 963.5 L228.8 978.9 L229.4 990.5 L230.0 979.2 L230.6 975.5 L231.2 983.1 L231.8 987.5 L232.7 989.9 L233.6 990.5 L234.5 990.7 L235.5 984.5 L236.4 987.9 L237.3 987.5 L238.2 979.8 L239.1 975.5 L239.7 951.1 L240.3 930.4 L240.9 950.7 L241.5 966.5 L242.1 923.4 L242.7 900.3 L243.3 923.7 L243.9 948.4 L244.5 959.4 L245.1 978.5 L245.4 995.0 L245.7 1023.6 L246.3 983.1 L246.9 960.5 L247.5 946.1 L248.1 924.4 L248.7 929.9 L249.3 942.4 L249.9 920.9 L250.5 906.3 L251.1 894.7 L251.7 885.3 L252.3 892.4 L252.9 894.3 L253.5 904.2 L254.1 924.4 L254.7 935.8 L255.3 948.4 L255.9 961.0 L256.5 972.5 L257.1 983.3 L257.7 987.5 L258.3 990.8 L258.9 990.5 L259.5 989.9 L260.1 984.5 L260.7 986.1 L261.3 990.5 L261.9 988.5 L262.5 987.5 L263.1 972.4 L263.7 960.5 L264.3 950.1 L264.9 930.4 L265.5 943.7 L266.1 948.4 L266.7 935.3 L267.3 928.9 L267.9 940.6 L268.5 960.5 L269.1 964.4 L269.7 972.5 L270.3 962.7 L270.9 957.4 L271.5 975.3 L272.1 993.5 L272.7 986.8 L273.3 978.5 L273.9 981.3 L274.5 987.5 L275.2 981.3 L275.8 981.5 L276.4 985.4 L277.0 990.5 L277.6 992.7 L278.2 996.5 L278.8 1001.5 L279.4 1005.6 L280.0 1001.9 L280.6 990.5 L281.2 972.4 L281.8 948.4 L282.4 914.9 L283.0 880.8 L283.6 907.6 L284.2 930.4 L284.8 955.7 L285.4 975.5 L286.0 956.8 L286.6 948.4 L287.2 940.7 L287.8 924.4 L288.4 918.0 L289.0 906.3 L289.6 922.4 L290.2 930.4 L290.8 938.7 L291.4 942.4 L292.0 959.0 L292.6 978.5 L293.2 962.2 L293.8 948.4 L294.4 951.3 L295.0 960.5 L295.6 967.5 L296.2 972.5 L296.8 939.4 L297.4 921.4 L298.0 929.9 L298.6 948.4 L299.2 957.3 L299.8 972.5 L300.4 953.3 L301.0 942.4 L301.6 920.6 L302.2 903.3 L302.8 918.8 L303.4 948.4 L304.0 955.1 L304.6 972.5 L305.2 958.4 L305.8 951.4 L306.4 957.9 L307.0 972.5 L307.6 977.4 L308.2 984.5 L308.8 983.3 L309.4 987.5 L310.0 1001.8 L310.6 1008.6 L311.2 1028.2 L311.8 1044.7 L312.4 1011.3 L313.0 990.5 L313.6 999.9 L314.2 1014.6 L314.8 1004.1 L315.5 996.5 L316.1 991.1 L316.7 987.5 L317.3 994.3 L317.9 1008.6 L318.5 1033.1 L319.1 1047.7 L319.7 1042.1 L320.3 1026.6 L320.9 1020.3 L321.5 1014.6 L322.1 1005.4 L322.7 996.5 L323.3 1011.3 L323.9 1038.6 L324.5 1047.0 L325.1 1064.2 L325.6 1033.5 L326.2 1008.6 L326.8 995.7 L327.4 987.5 L328.3 986.6 L329.2 981.5 L330.1 977.2 L331.0 977.0 L331.9 976.3 L332.8 981.5 L333.7 987.4 L334.6 987.5 L335.2 974.3 L335.8 960.5 L336.4 937.6 L337.0 924.4 L337.5 903.2 L337.9 880.8 L338.4 895.2 L338.8 924.4 L339.4 942.8 L340.0 960.5 L340.6 977.6 L341.2 984.5 L341.8 1012.8 L342.4 1029.6 L342.7 1060.2 L343.0 1083.8 L343.3 1057.4 L343.6 1038.6 L343.9 1015.6 L344.2 996.5 L344.8 1005.0 L345.5 1020.6 L346.1 1039.0 L346.7 1050.7 L347.3 1025.7 L347.9 999.5 L348.5 1016.3 L349.1 1026.6 L349.7 1012.8 L350.3 1002.6 L350.9 992.7 L351.5 987.5 L352.1 986.5 L352.7 981.5 L353.6 989.5 L354.5 990.5 L355.1 987.9 L355.7 980.0 L356.6 980.2 L357.5 977.0 L358.1 966.5 L358.7 948.4 L359.3 937.6 L359.9 921.4 L360.2 908.1 L360.5 900.3 L361.1 912.5 L361.7 924.4 L362.3 929.2 L362.9 936.4 L363.5 926.7 L364.1 924.4 L364.7 931.3 L365.3 948.4 L365.9 928.2 L366.5 913.8 L367.1 927.9 L367.7 948.4 L368.3 959.2 L368.9 966.5 L369.5 959.4 L370.1 942.4 L370.7 937.5 L371.3 933.4 L371.9 948.3 L372.5 954.4 L373.1 968.0 L373.7 972.5 L374.3 985.7 L374.9 990.5 L375.5 986.6 L376.1 984.5 L377.0 990.9 L377.9 1002.6 L378.5 987.6 L379.1 978.5 L380.0 978.3 L380.9 981.5 L381.8 982.6 L382.7 987.5 L383.6 983.9 L384.5 978.5 L385.5 994.8 L386.4 1002.6 L387.0 995.5 L387.6 981.5 L388.5 982.9 L389.4 984.5 L390.3 998.2 L391.2 1008.6 L391.8 1027.3 L392.4 1038.6 L393.0 1022.1 L393.6 1014.6 L393.9 1046.2 L394.2 1071.7 L394.8 1065.3 L395.4 1050.7 L396.0 1039.1 L396.6 1020.6 L397.2 1035.3 L397.8 1044.7 L398.4 1017.2 L399.0 990.5 L399.6 975.0 L400.2 966.5 L400.8 985.0 L401.4 996.5 L402.0 986.0 L402.6 978.5 L403.5 983.4 L404.4 984.5 L405.3 984.5 L406.2 978.5 L407.1 959.0 L408.0 942.4 L408.6 956.2 L409.2 972.5 L409.8 978.4 L410.4 978.5 L411.0 971.6 L411.6 960.5 L412.2 948.3 L412.8 942.4 L413.4 952.9 L414.0 972.5 L414.3 978.2 L414.6 990.5 L414.9 968.3 L415.2 930.4 L415.8 905.0 L416.4 867.2 L417.0 886.7 L417.6 918.3 L418.2 944.3 L418.8 960.5 L419.4 977.7 L420.0 984.5 L420.6 995.8 L421.2 1004.1 L421.8 994.4 L422.4 987.5 L423.0 995.5 L423.6 1002.6 L424.2 986.6 L424.8 978.5 L425.5 964.9 L426.1 960.5 L426.7 958.2 L427.3 948.4 L427.9 936.6 L428.5 921.4 L429.1 935.2 L429.7 948.4 L430.3 966.9 L430.9 975.5 L431.8 979.5 L432.7 984.5 L433.6 983.9 L434.5 978.5 L435.4 987.1 L436.3 990.5 L436.9 982.2 L437.5 978.5 L438.1 985.2 L438.7 996.5 L439.3 979.0 L439.9 966.5 L440.3 996.8 L440.8 1038.6 L441.2 1007.4 L441.7 972.5 L442.3 944.4 L442.9 924.4 L443.5 938.4 L444.1 954.4 L444.7 942.0 L445.3 936.4 L445.9 951.0 L446.5 957.4 L447.1 939.0 L447.7 924.4 L448.3 918.0 L448.9 912.3 L449.5 904.1 L450.1 894.3 L450.7 893.9 L451.3 888.3 L451.9 896.6 L452.5 906.3 L453.1 930.1 L453.7 942.4 L454.3 959.0 L454.9 975.5 L455.5 986.3 L456.1 996.5 L456.7 992.2 L457.3 987.5 L458.2 983.3 L459.1 984.5 L460.0 985.7 L460.9 987.5 L461.8 982.5 L462.7 981.5 L463.6 981.3 L464.5 987.5 L465.5 985.2 L466.4 978.5 L467.0 956.0 L467.6 942.4 L468.2 958.6 L468.8 975.5 L469.4 994.9 L470.0 1008.6 L470.6 1024.3 L471.2 1038.6 L471.8 1028.0 L472.4 1020.6 L473.0 1004.3 L473.6 987.5 L474.2 1014.0 L474.8 1038.6 L475.4 1029.7 L476.0 1014.6 L476.6 1001.9 L477.2 996.5 L477.8 1009.2 L478.4 1020.6 L479.0 1002.5 L479.6 990.5 L480.2 994.8 L480.8 1002.6 L481.4 997.4 L482.0 987.5 L482.6 1004.2 L483.2 1020.6 L483.8 1006.3 L484.4 990.5 L485.3 986.6 L486.2 978.5 L486.8 976.9 L487.4 969.5 L488.0 975.0 L488.6 981.5 L489.2 975.7 L489.8 968.0 L490.4 983.8 L491.0 999.5 L491.6 989.1 L492.2 978.5 L492.8 986.0 L493.4 990.5 L494.0 988.7 L494.6 987.5 L495.5 974.4 L496.4 960.5 L497.0 940.6 L497.6 921.4 L498.2 912.9 L498.8 894.3 L499.4 884.4 L500.0 870.2 L500.6 888.1 L501.2 897.3 L501.8 894.8 L502.4 885.3 L503.0 875.7 L503.6 870.2 L504.2 895.3 L504.8 918.3 L504.9 957.0 L505.0 978.5 L505.9 981.1 L506.8 980.0 L507.7 978.8 L508.6 981.5 L509.5 977.8 L510.4 978.5 L511.3 981.1 L512.2 984.5 L513.1 979.7 L514.0 980.0 L514.9 977.9 L515.8 978.5 L516.7 977.6 L517.6 981.5 L518.5 987.2 L519.4 990.5 L520.0 1002.2 L520.6 1008.6 L521.2 1003.3 L521.8 990.5 L522.4 987.0 L523.0 987.5 L523.6 996.9 L524.2 1002.6 L524.8 1009.8 L525.5 1014.6 L526.1 1004.0 L526.7 999.5 L527.3 1013.9 L527.9 1020.6 L528.5 1028.5 L529.1 1029.6 L529.7 1021.4 L530.3 1017.6 L530.9 1032.7 L531.5 1038.6 L532.1 1046.0 L532.7 1055.2 L533.0 1031.7 L533.3 1008.6 L533.6 992.6 L533.9 960.5 L534.5 979.6 L535.1 990.5 L536.0 985.3 L536.9 984.5 L537.8 981.1 L538.7 978.5 L539.6 980.1 L540.5 981.5 L541.4 977.5 L542.3 975.5 L542.9 975.3 L543.5 978.5 L543.9 953.9 L544.4 934.9 L544.8 960.1 L545.3 978.5 L545.9 980.7 L546.5 990.5 L547.1 1000.1 L547.7 1008.6 L548.3 1015.6 L548.9 1023.6 L549.5 1011.9 L550.1 1008.6 L550.7 1013.3 L551.3 1020.6 L551.9 1012.7 L552.5 1002.6 L553.1 995.1 L553.7 987.5 L554.3 979.9 L554.9 978.5 L555.5 988.3 L556.1 990.5 L556.7 985.5 L557.3 975.5 L557.9 990.8 L558.5 996.5 L559.1 991.0 L559.7 990.5 L560.3 976.8 L560.9 968.0 L561.5 972.1 L562.1 984.5 L562.7 983.3 L563.3 978.5 L564.2 980.0 L565.2 984.5 L566.1 980.9 L567.0 981.5 L567.9 984.0 L568.8 987.5 L569.7 986.0 L570.6 978.5 L571.5 981.8 L572.4 981.5 L573.3 976.9 L574.2 975.5 L575.1 975.0 L576.0 978.5 L576.9 978.2 L577.8 972.5 L578.4 967.0 L579.0 960.5 L579.6 957.4 L580.2 951.4 L580.8 957.8 L581.4 972.5 L582.0 994.0 L582.6 1032.6 L583.2 1009.0 L583.8 978.5 L584.4 968.8 L585.0 960.5 L585.6 951.1 L586.2 948.4 L586.8 965.2 L587.4 972.5 L588.0 964.7 L588.6 954.4 L589.2 962.8 L589.8 966.5 L590.4 953.6 L591.0 948.4 L591.6 935.9 L592.2 913.8 L592.8 930.1 L593.4 960.5 L594.0 974.6 L594.6 981.5 L595.2 994.5 L595.8 1008.6 L596.4 991.6 L597.0 978.5 L597.6 975.8 L598.2 972.5 L598.8 981.9 L599.4 984.5 L600.0 973.3 L600.6 966.5 L601.2 954.0 L601.8 948.4 L602.4 930.0 L603.0 910.8 L603.6 931.2 L604.2 960.5 L604.8 965.8 L605.5 978.5 L606.1 973.3 L606.7 972.5 L607.3 974.9 L607.9 984.5 L608.5 972.7 L609.1 966.5 L609.7 954.0 L610.3 945.4 L610.9 956.7 L611.5 972.5 L612.1 982.2 L612.7 987.5 L613.3 964.9 L613.9 948.4 L614.5 966.5 L615.1 984.5 L615.7 1000.7 L616.3 1026.6 L616.9 1045.4 L617.5 1068.7 L617.8 1073.2 L618.1 1086.8 L618.7 1065.3 L619.3 1050.7 L619.9 1029.7 L620.5 1020.6 L621.1 1031.8 L621.7 1038.6 L622.3 1024.2 L622.9 1008.6 L623.5 994.9 L624.1 987.5 L624.7 984.3 L625.3 981.5 L625.9 989.1 L626.5 990.5 L627.1 985.0 L627.7 984.5 L628.3 996.5 L628.9 1002.6 L629.5 996.0 L630.1 990.5 L630.7 993.5 L631.3 996.5 L631.9 994.4 L632.5 987.5 L633.1 994.1 L633.7 1002.6 L634.3 984.6 L634.9 966.5 L635.5 949.6 L636.1 927.4 L636.7 950.2 L637.3 960.5 L637.9 950.0 L638.5 942.4 L639.1 958.0 L639.7 966.5 L640.3 951.9 L640.9 931.9 L641.5 954.2 L642.1 972.5 L642.7 959.4 L643.3 948.4 L643.9 941.2 L644.5 936.4 L645.2 948.3 L645.8 972.5 L646.4 945.8 L647.0 930.4 L647.6 913.7 L648.2 906.3 L648.8 920.9 L649.4 930.4 L650.0 908.2 L650.6 892.8 L651.2 909.4 L651.8 936.4 L652.4 916.3 L653.0 906.3 L653.6 929.0 L654.2 942.4 L654.8 958.4 L655.4 966.5 L656.3 972.2 L657.2 975.5 L658.1 975.7 L659.0 978.5 L659.6 982.5 L660.2 990.5 L660.8 1011.2 L661.4 1038.6 L662.0 1023.1 L662.6 1008.6 L663.2 996.4 L663.8 990.5 L664.4 996.1 L665.0 1002.6 L665.6 991.3 L666.2 984.5 L666.8 1010.7 L667.4 1023.6 L668.0 1008.5 L668.6 978.5 L669.2 964.0 L669.8 948.4 L670.4 926.9 L671.0 912.3 L671.6 904.2 L672.2 885.3 L672.8 875.8 L673.4 869.6 L674.0 877.6 L674.6 888.3 L675.2 899.5 L675.8 924.4 L676.4 938.0 L677.0 954.4 L677.6 964.7 L678.2 975.5 L679.1 977.0 L680.0 978.5 L680.9 978.3 L681.8 981.5 L682.7 980.8 L683.6 980.0 L685.0 978.1 L686.4 981.5" stroke="#f5862a"/>
</g>
<rect x="141.5" y="786.5" width="544.8" height="353.8" fill="none" stroke="#000" stroke-width="1.3"/>
<line x1="134.1" y1="880.2" x2="141.5" y2="880.2" stroke="#000" stroke-width="1.25"/>
<text x="127.0" y="886.0" font-size="17.8" text-anchor="end" textLength="25.3" lengthAdjust="spacingAndGlyphs">1.0</text>
<line x1="134.1" y1="984.3" x2="141.5" y2="984.3" stroke="#000" stroke-width="1.25"/>
<text x="127.0" y="990.1" font-size="17.8" text-anchor="end" textLength="12.0" lengthAdjust="spacingAndGlyphs">0</text>
<line x1="134.1" y1="1088.4" x2="141.5" y2="1088.4" stroke="#000" stroke-width="1.25"/>
<text x="127.0" y="1094.2" font-size="17.8" text-anchor="end" textLength="34.7" lengthAdjust="spacingAndGlyphs">−1.0</text>
<line x1="141.5" y1="1140.3" x2="141.5" y2="1147.8" stroke="#000" stroke-width="1.25"/>
<text x="141.5" y="1170.0" font-size="17.8" text-anchor="middle" textLength="12.0" lengthAdjust="spacingAndGlyphs">0</text>
<line x1="232.3" y1="1140.3" x2="232.3" y2="1147.8" stroke="#000" stroke-width="1.25"/>
<text x="232.3" y="1170.0" font-size="17.8" text-anchor="middle" textLength="10.7" lengthAdjust="spacingAndGlyphs">5</text>
<line x1="323.1" y1="1140.3" x2="323.1" y2="1147.8" stroke="#000" stroke-width="1.25"/>
<text x="322.5" y="1170.0" font-size="17.8" text-anchor="middle" textLength="20.6" lengthAdjust="spacingAndGlyphs">10</text>
<line x1="413.9" y1="1140.3" x2="413.9" y2="1147.8" stroke="#000" stroke-width="1.25"/>
<text x="413.3" y="1170.0" font-size="17.8" text-anchor="middle" textLength="19.2" lengthAdjust="spacingAndGlyphs">15</text>
<line x1="504.8" y1="1140.3" x2="504.8" y2="1147.8" stroke="#000" stroke-width="1.25"/>
<text x="504.8" y="1170.0" font-size="17.8" text-anchor="middle" textLength="22.2" lengthAdjust="spacingAndGlyphs">20</text>
<line x1="595.6" y1="1140.3" x2="595.6" y2="1147.8" stroke="#000" stroke-width="1.25"/>
<text x="595.6" y="1170.0" font-size="17.8" text-anchor="middle" textLength="20.8" lengthAdjust="spacingAndGlyphs">25</text>
<line x1="686.4" y1="1140.3" x2="686.4" y2="1147.8" stroke="#000" stroke-width="1.25"/>
<text x="686.4" y="1170.0" font-size="17.8" text-anchor="middle" textLength="22.5" lengthAdjust="spacingAndGlyphs">30</text>
<text x="413.8" y="1201.6" font-size="22.5" text-anchor="middle" textLength="83.9" lengthAdjust="spacingAndGlyphs">Time (s)</text>
<text transform="translate(57.8 962.8) rotate(-90)" font-size="22.5" text-anchor="middle" textLength="230.9" lengthAdjust="spacingAndGlyphs">Normalized velocities</text>
<text transform="translate(83.5 962.5) rotate(-90)" font-size="22.5" text-anchor="middle" textLength="241.5" lengthAdjust="spacingAndGlyphs">of Index–middle group</text>
<line x1="321.1" y1="807.4" x2="343.9" y2="807.4" stroke="#2e6da4" stroke-width="3"/>
<line x1="321.1" y1="834.4" x2="343.9" y2="834.4" stroke="#e37d2f" stroke-width="3"/>
<text x="356.6" y="813.5" font-size="18.3" textLength="314.6" lengthAdjust="spacingAndGlyphs">Online decoding with 2D algorithm</text>
<text x="356.6" y="836.5" font-size="18.3" textLength="323.0" lengthAdjust="spacingAndGlyphs">Offline prediction with 4D algorithm</text>
<text x="679.1" y="1122.9" font-size="18.0" text-anchor="end" textLength="89.9" lengthAdjust="spacingAndGlyphs">CC = 0.68</text>
<text x="768.4" y="730.2" font-size="31" font-weight="bold" fill="#000" stroke="#000" stroke-width="1.4" stroke-linejoin="round" textLength="21.2" lengthAdjust="spacingAndGlyphs">d</text>
<text x="802.8" y="733.2" font-size="22.5" textLength="253.7" lengthAdjust="spacingAndGlyphs">Correlation between 4D</text>
<text x="802.8" y="760.6" font-size="22.5" textLength="253.2" lengthAdjust="spacingAndGlyphs">and 2D online decoding</text>
<text x="803.9" y="787.0" font-size="22.5" textLength="256.7" lengthAdjust="spacingAndGlyphs">versus offline prediction</text>
<rect x="869.5" y="799.0" width="127.0" height="370.3" fill="none" stroke="#000" stroke-width="1.3"/>
<line x1="862.1" y1="1169.3" x2="869.5" y2="1169.3" stroke="#000" stroke-width="1.25"/>
<line x1="862.1" y1="1123.2" x2="869.5" y2="1123.2" stroke="#000" stroke-width="1.25"/>
<text x="851.6" y="1129.0" font-size="19.0" text-anchor="end" textLength="40.3" lengthAdjust="spacingAndGlyphs">0.55</text>
<line x1="862.1" y1="1077.0" x2="869.5" y2="1077.0" stroke="#000" stroke-width="1.25"/>
<text x="851.6" y="1082.8" font-size="19.0" text-anchor="end" textLength="42.5" lengthAdjust="spacingAndGlyphs">0.60</text>
<line x1="862.1" y1="1030.4" x2="869.5" y2="1030.4" stroke="#000" stroke-width="1.25"/>
<text x="851.6" y="1036.2" font-size="19.0" text-anchor="end" textLength="41.1" lengthAdjust="spacingAndGlyphs">0.65</text>
<line x1="862.1" y1="984.4" x2="869.5" y2="984.4" stroke="#000" stroke-width="1.25"/>
<text x="851.6" y="990.2" font-size="19.0" text-anchor="end" textLength="40.9" lengthAdjust="spacingAndGlyphs">0.70</text>
<line x1="862.1" y1="938.3" x2="869.5" y2="938.3" stroke="#000" stroke-width="1.25"/>
<text x="851.6" y="944.1" font-size="19.0" text-anchor="end" textLength="39.4" lengthAdjust="spacingAndGlyphs">0.75</text>
<line x1="862.1" y1="891.1" x2="869.5" y2="891.1" stroke="#000" stroke-width="1.25"/>
<text x="851.6" y="896.9" font-size="19.0" text-anchor="end" textLength="42.5" lengthAdjust="spacingAndGlyphs">0.80</text>
<line x1="862.1" y1="845.3" x2="869.5" y2="845.3" stroke="#000" stroke-width="1.25"/>
<text x="851.6" y="851.1" font-size="19.0" text-anchor="end" textLength="41.1" lengthAdjust="spacingAndGlyphs">0.85</text>
<line x1="901.4" y1="1169.3" x2="901.4" y2="1177.0" stroke="#000" stroke-width="1.25"/>
<line x1="964.6" y1="1169.3" x2="964.6" y2="1177.0" stroke="#000" stroke-width="1.25"/>
<text x="871.2" y="823.4" font-size="13.8" textLength="58.6" lengthAdjust="spacingAndGlyphs"><tspan font-style="italic">μ</tspan> = 0.69</text>
<text x="933.9" y="823.4" font-size="13.8" textLength="59.1" lengthAdjust="spacingAndGlyphs"><tspan font-style="italic">μ</tspan> = 0.68</text>
<circle cx="900.6" cy="924.2" r="3.6" fill="#1ab4b8"/>
<circle cx="900.1" cy="971.5" r="3.6" fill="#1ab4b8"/>
<circle cx="902.0" cy="1010.5" r="3.6" fill="#1ab4b8"/>
<circle cx="902.5" cy="1059.7" r="3.6" fill="#1ab4b8"/>
<circle cx="965.2" cy="957.3" r="3.6" fill="#1ab4b8"/>
<circle cx="964.6" cy="978.8" r="3.6" fill="#1ab4b8"/>
<circle cx="964.1" cy="1022.6" r="3.6" fill="#1ab4b8"/>
<circle cx="963.6" cy="1054.1" r="3.6" fill="#1ab4b8"/>
<path d="M901.2 981.9 L910.5 991.2 L901.2 1000.5 L891.9 991.2Z" fill="#0a0a0a"/>
<circle cx="901.2" cy="990.4" r="3.6" fill="#1ab4b8"/>
<path d="M964.6 994.0 L973.9 1003.3 L964.6 1012.6 L955.3 1003.3Z" fill="#0a0a0a"/>
<circle cx="965.7" cy="1003.3" r="3.6" fill="#1ab4b8"/>
<text transform="translate(796.8 984.0) rotate(-90)" font-size="22.5" text-anchor="middle" textLength="159.9" lengthAdjust="spacingAndGlyphs">Normalized CC</text>
<text x="780.0" y="1198.5" font-size="20.8" textLength="76.8" lengthAdjust="spacingAndGlyphs" fill="#2f78b4">Online:</text>
<text x="780.0" y="1220.0" font-size="20.8" textLength="76.8" lengthAdjust="spacingAndGlyphs" fill="#f58a2e">Offline:</text>
<text x="901.4" y="1198.5" font-size="17.0" text-anchor="middle" textLength="23.9" lengthAdjust="spacingAndGlyphs" fill="#2f78b4">2D</text>
<text x="964.6" y="1198.5" font-size="17.0" text-anchor="middle" textLength="24.4" lengthAdjust="spacingAndGlyphs" fill="#2f78b4">4D</text>
<text x="901.4" y="1220.0" font-size="17.0" text-anchor="middle" textLength="24.4" lengthAdjust="spacingAndGlyphs" fill="#f58a2e">4D</text>
<text x="964.6" y="1220.0" font-size="17.0" text-anchor="middle" textLength="23.9" lengthAdjust="spacingAndGlyphs" fill="#f58a2e">2D</text>
</svg>
</body></html>
